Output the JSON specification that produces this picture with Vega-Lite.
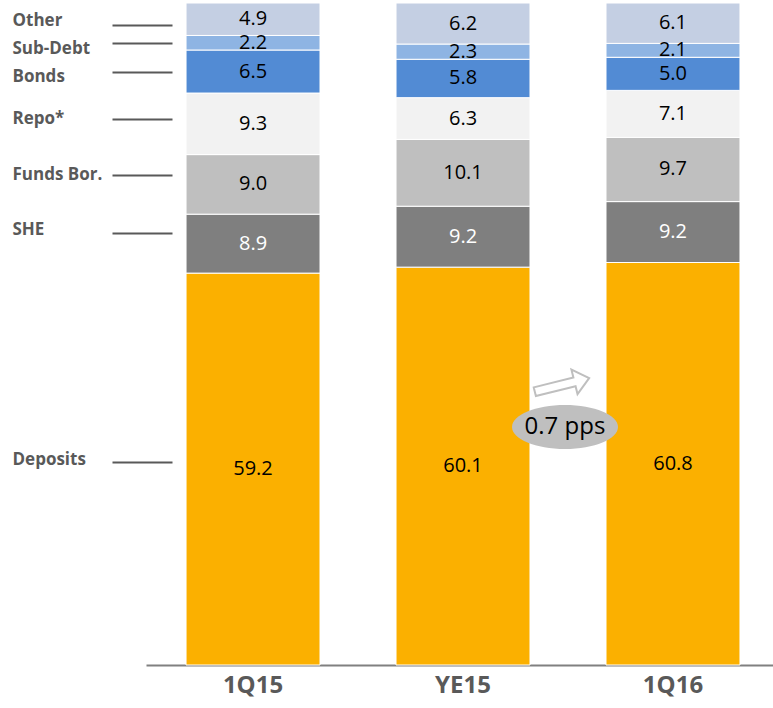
{
  "$schema": "https://vega.github.io/schema/vega-lite/v6.json",
  "width": 627,
  "height": 662,
  "autosize": {"type": "none"},
  "padding": {"left": 146, "top": 3, "right": 0, "bottom": 43},
  "background": "white",
  "config": {"view": {"stroke": null}, "font": "Open Sans"},
  "datasets": {
    "funding": [
      {"period": "1Q15", "component": "Deposits", "rank": 1, "value": 59.2},
      {"period": "1Q15", "component": "SHE", "rank": 2, "value": 8.9},
      {"period": "1Q15", "component": "Funds Bor.", "rank": 3, "value": 9.0},
      {"period": "1Q15", "component": "Repo*", "rank": 4, "value": 9.3},
      {"period": "1Q15", "component": "Bonds", "rank": 5, "value": 6.5},
      {"period": "1Q15", "component": "Sub-Debt", "rank": 6, "value": 2.2},
      {"period": "1Q15", "component": "Other", "rank": 7, "value": 4.9},
      {"period": "YE15", "component": "Deposits", "rank": 1, "value": 60.1},
      {"period": "YE15", "component": "SHE", "rank": 2, "value": 9.2},
      {"period": "YE15", "component": "Funds Bor.", "rank": 3, "value": 10.1},
      {"period": "YE15", "component": "Repo*", "rank": 4, "value": 6.3},
      {"period": "YE15", "component": "Bonds", "rank": 5, "value": 5.8},
      {"period": "YE15", "component": "Sub-Debt", "rank": 6, "value": 2.3},
      {"period": "YE15", "component": "Other", "rank": 7, "value": 6.2},
      {"period": "1Q16", "component": "Deposits", "rank": 1, "value": 60.8},
      {"period": "1Q16", "component": "SHE", "rank": 2, "value": 9.2},
      {"period": "1Q16", "component": "Funds Bor.", "rank": 3, "value": 9.7},
      {"period": "1Q16", "component": "Repo*", "rank": 4, "value": 7.1},
      {"period": "1Q16", "component": "Bonds", "rank": 5, "value": 5.0},
      {"period": "1Q16", "component": "Sub-Debt", "rank": 6, "value": 2.1},
      {"period": "1Q16", "component": "Other", "rank": 7, "value": 6.1}
    ]
  },
  "layer": [
    {
      "data": {"name": "funding"},
      "transform": [
        {"stack": "value", "groupby": ["period"], "sort": [{"field": "rank", "order": "ascending"}], "as": ["y0", "y1"]}
      ],
      "mark": {"type": "bar", "stroke": "white", "strokeWidth": 1},
      "encoding": {
        "x": {
          "field": "period", "type": "nominal",
          "scale": {"domain": ["1Q15", "YE15", "1Q16"], "paddingInner": 0.362, "paddingOuter": 0.174, "align": 0.548},
          "axis": {
            "title": null, "ticks": false, "domain": true, "domainColor": "#808080", "domainWidth": 2,
            "labelColor": "#595959", "labelFontSize": 24, "labelFontWeight": "bold", "labelPadding": 8,
            "labelFont": "Open Sans", "labelAngle": 0
          }
        },
        "y": {
          "field": "y0", "type": "quantitative",
          "scale": {"domain": [0, 100], "nice": false, "zero": true},
          "axis": {
            "title": null, "grid": false, "domain": false, "orient": "left",
            "values": [96.68, 93.96, 89.58, 82.48, 74.02, 65.26, 30.66],
            "labelExpr": "datum.value == 96.68 ? 'Other' : datum.value == 93.96 ? 'Sub-Debt' : datum.value == 89.58 ? 'Bonds' : datum.value == 82.48 ? 'Repo*' : datum.value == 74.02 ? 'Funds Bor.' : datum.value == 65.26 ? 'SHE' : 'Deposits'",
            "labelOffset": {
              "condition": [
                {"test": "datum.value == 96.68", "value": -4},
                {"test": "datum.value == 93.96", "value": 6},
                {"test": "datum.value == 89.58", "value": 5},
                {"test": "datum.value == 65.26", "value": -3},
                {"test": "datum.value == 30.66", "value": -3}
              ],
              "value": 0
            },
            "ticks": true, "tickSize": 60, "tickWidth": 2, "tickColor": "#595959", "offset": -26,
            "labelAlign": "left", "labelPadding": 100, "labelFontSize": 17, "labelFontWeight": "bold",
            "labelColor": "#595959", "labelBaseline": "middle", "labelOverlap": false, "labelBound": false, "labelFlush": false
          }
        },
        "y2": {"field": "y1"},
        "color": {
          "field": "component", "type": "nominal", "legend": null,
          "scale": {
            "domain": ["Deposits", "SHE", "Funds Bor.", "Repo*", "Bonds", "Sub-Debt", "Other"],
            "range": ["#FBB000", "#7F7F7F", "#BFBFBF", "#F2F2F2", "#528BD4", "#8EB4E3", "#C4CFE3"]
          }
        }
      }
    },
    {
      "data": {"name": "funding"},
      "transform": [
        {"stack": "value", "groupby": ["period"], "sort": [{"field": "rank", "order": "ascending"}], "as": ["y0", "y1"]},
        {"calculate": "(datum.y0 + datum.y1) / 2", "as": "mid"}
      ],
      "mark": {"type": "text", "fontSize": 20, "font": "Open Sans", "fontWeight": 500, "baseline": "middle", "align": "center"},
      "encoding": {
        "x": {"field": "period", "type": "nominal", "scale": {"domain": ["1Q15", "YE15", "1Q16"]}},
        "y": {"field": "mid", "type": "quantitative"},
        "text": {"field": "value", "type": "quantitative", "format": ".1f"},
        "color": {"condition": {"test": "datum.component === 'SHE'", "value": "white"}, "value": "black"}
      }
    },
    {
      "data": {"values": [{"note": "0.7 pps"}]},
      "mark": {
        "type": "point", "filled": true, "opacity": 1, "color": "#BFBFBF", "size": 11236, "xOffset": -108,
        "shape": "M-1,0 A1,0.415 0 1,0 1,0 A1,0.415 0 1,0 -1,0 Z"
      },
      "encoding": {
        "x": {"datum": "1Q16", "type": "nominal"},
        "y": {"datum": 35.95, "type": "quantitative"}
      }
    },
    {
      "data": {"values": [{"note": "0.7 pps"}]},
      "mark": {"type": "text", "fontSize": 24, "font": "Open Sans", "fontWeight": 500, "color": "black", "xOffset": -108, "baseline": "middle", "align": "center"},
      "encoding": {
        "x": {"datum": "1Q16", "type": "nominal"},
        "y": {"datum": 35.95, "type": "quantitative"},
        "text": {"field": "note"}
      }
    },
    {
      "data": {"values": [{"note": "arrow"}]},
      "mark": {
        "type": "point", "filled": false, "fill": "white", "fillOpacity": 1, "stroke": "#BFBFBF", "strokeWidth": 2,
        "opacity": 1, "size": 3136, "angle": -14, "xOffset": -111,
        "shape": "M-1,-0.16 L0.46,-0.16 L0.46,-0.45 L1,0 L0.46,0.45 L0.46,0.16 L-1,0.16 Z"
      },
      "encoding": {
        "x": {"datum": "1Q16", "type": "nominal"},
        "y": {"datum": 42.3, "type": "quantitative"}
      }
    }
  ]
}
